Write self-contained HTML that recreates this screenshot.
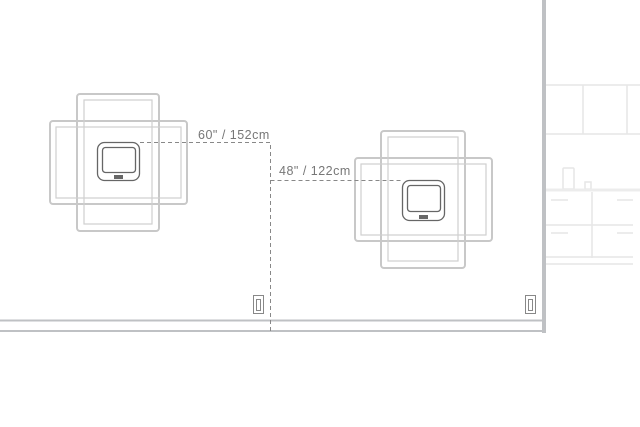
<!DOCTYPE html>
<html><head><style>html,body{margin:0;padding:0;background:#fff;}svg{display:block}</style></head>
<body>
<svg width="640" height="427" viewBox="0 0 640 427" xmlns="http://www.w3.org/2000/svg">
<rect width="640" height="427" fill="#fff"/>
<!-- kitchen -->
<g stroke="#e6e6e6" stroke-width="1.5" fill="none">
<line x1="546" y1="85" x2="640" y2="85"/>
<line x1="546" y1="134" x2="640" y2="134"/>
<line x1="583" y1="85" x2="583" y2="134"/>
<line x1="627" y1="85" x2="627" y2="134"/>
<line x1="546" y1="225" x2="633" y2="225"/>
<line x1="546" y1="257" x2="633" y2="257"/>
<line x1="546" y1="264" x2="633" y2="264"/>
<line x1="592" y1="192" x2="592" y2="258"/>
<line x1="551" y1="200" x2="568" y2="200"/>
<line x1="617" y1="200" x2="633" y2="200"/>
<line x1="551" y1="233" x2="568" y2="233"/>
<line x1="617" y1="233" x2="633" y2="233"/>
<rect x="563" y="168" width="11" height="21" rx="1"/>
<rect x="585" y="182" width="6" height="7"/>
</g>
<line x1="546" y1="190" x2="640" y2="190" stroke="#ececec" stroke-width="3"/>
<!-- walls -->
<line x1="0" y1="320.5" x2="544" y2="320.5" stroke="#bfc1c4" stroke-width="2"/>
<line x1="0" y1="331" x2="544" y2="331" stroke="#bfc1c4" stroke-width="2"/>
<rect x="542" y="0" width="4" height="333" fill="#bfc1c4"/>
<!-- outlets -->
<g stroke="#888" fill="none" stroke-width="1">
<rect x="253.5" y="295.5" width="10" height="18"/>
<rect x="256.5" y="299.5" width="4" height="11"/>
<rect x="525.5" y="295.5" width="10" height="18"/>
<rect x="528.5" y="299.5" width="4" height="11"/>
</g>
<!-- left mats -->
<g fill="none" stroke="#c8c8c8" stroke-width="2">
<rect x="77" y="94" width="82" height="137" rx="3"/>
<rect x="50" y="121" width="137" height="83" rx="3"/>
</g>
<g fill="none" stroke="#cfcfcf" stroke-width="1.2">
<rect x="84" y="100" width="68" height="124"/>
<rect x="56" y="127" width="125" height="71"/>
</g>
<!-- right mats -->
<g fill="none" stroke="#c8c8c8" stroke-width="2">
<rect x="381" y="131" width="84" height="137" rx="3"/>
<rect x="355" y="158" width="137" height="83" rx="3"/>
</g>
<g fill="none" stroke="#cfcfcf" stroke-width="1.2">
<rect x="388" y="137" width="70" height="124"/>
<rect x="361" y="164" width="125" height="71"/>
</g>
<!-- dashes -->
<g stroke="#888" stroke-width="1" stroke-dasharray="4,3" fill="none">
<polyline points="140,142.5 270.5,142.5 270.5,334"/>
<line x1="270.5" y1="180.5" x2="402" y2="180.5"/>
</g>
<!-- devices -->
<g fill="#fff" stroke="#666" stroke-width="1.3">
<rect x="97.5" y="142.5" width="42" height="38" rx="7"/>
<rect x="102.5" y="147.5" width="33" height="25" rx="3"/>
<rect x="402.5" y="180.5" width="42" height="40" rx="7"/>
<rect x="407.5" y="185.5" width="33" height="26" rx="3"/>
</g>
<rect x="114" y="175" width="9" height="4" fill="#666"/>
<rect x="419" y="215" width="9" height="4" fill="#666"/>
<!-- labels -->
<g font-family="Liberation Sans, sans-serif" font-size="12.5" fill="#777" letter-spacing="0.5">
<text x="198" y="139">60" / 152cm</text>
<text x="279" y="175">48" / 122cm</text>
</g>
</svg>
</body></html>
